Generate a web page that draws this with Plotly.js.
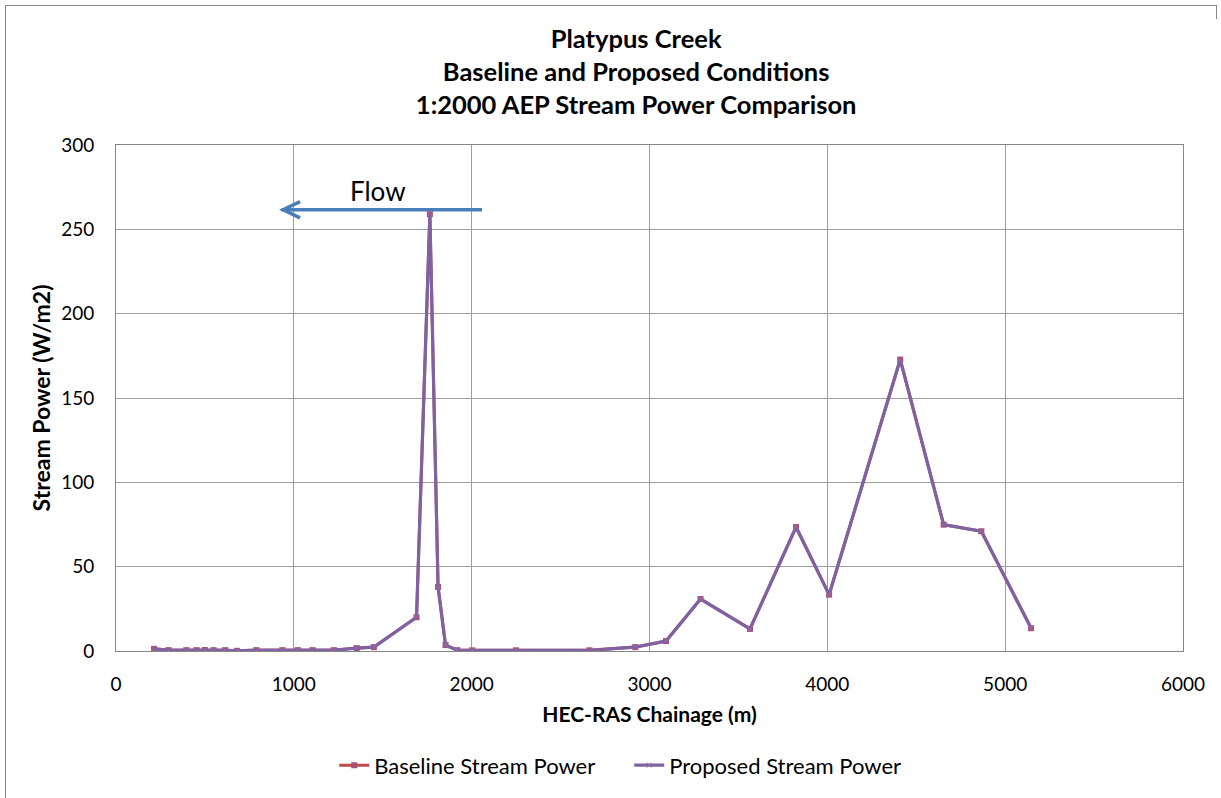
<!DOCTYPE html>
<html>
<head>
<meta charset="utf-8">
<script src="https://cdn.plot.ly/plotly-3.0.1.min.js"></script>
<style>
  html, body { margin: 0; padding: 0; background: #fff; }
  #chart { position: absolute; left: 0; top: 0; width: 1221px; height: 798px; }
  #frame { position: absolute; left: 5px; top: 5px; width: 1211px; height: 800px;
           border-left: 1px solid #8a8a8a; border-top: 1px solid #8a8a8a; pointer-events: none; }
  #frame2 { position: absolute; left: 1216px; top: 5px; width: 0; height: 14px;
           border-left: 1px solid #8a8a8a; pointer-events: none; }
</style>
</head>
<body>
<div id="chart"></div>
<div id="frame"></div>
<div id="frame2"></div>
<script>
// Chainage (m)
const chainage = [214, 295, 396, 453, 500, 548, 614, 680, 789, 936, 1022, 1105, 1225, 1353, 1450,
                  1690, 1765, 1811, 1853, 1919, 2003, 2249, 2662, 2920, 3093, 3287, 3565, 3824,
                  4010, 4410, 4654, 4866, 5146];
// Stream power (W/m2)
const baselinePower = [1.3, 0.5, 0.5, 0.5, 0.6, 0.5, 0.5, 0.1, 0.5, 0.5, 0.5, 0.5, 0.5, 1.7, 2.3,
                       20, 259, 38, 3.5, 0.5, 0.4, 0.4, 0.4, 2.3, 5.9, 30.8, 13.1, 73.5,
                       33.4, 172.8, 74.9, 71, 13.5];
const proposedPower = [1.3, 0.5, 0.5, 0.5, 0.6, 0.5, 0.5, 0.1, 0.5, 0.5, 0.5, 0.5, 0.5, 1.7, 2.3,
                       20, 259, 38, 3.5, 0.5, 0.4, 0.4, 0.4, 2.3, 5.9, 30.8, 13.1, 73.5,
                       33.4, 172.8, 74.9, 71, 13.5];
const seriesNames = ["Baseline Stream Power", "Proposed Stream Power"];
const xTicks = [0, 1000, 2000, 3000, 4000, 5000, 6000];
const yTicks = [0, 50, 100, 150, 200, 250, 300];

// Flow arrow annotation (tail -> head, in chainage / power units)
const flowLabel = "Flow";
const flowArrow = { x0: 2058, x1: 940, y: 261.6 };

const FONT = "Lato, 'Open Sans', sans-serif";

const traces = [
  {
    x: chainage, y: baselinePower, name: seriesNames[0], type: "scatter", mode: "lines+markers",
    line: { color: "#BE4B48", width: 3 },
    marker: { symbol: "square", size: 6, color: "#A8507A" }
  },
  {
    x: chainage, y: proposedPower, name: seriesNames[1], type: "scatter", mode: "lines+markers",
    line: { color: "#7F62A1", width: 3.2 },
    marker: { symbol: "x-thin", size: 5, color: "#9b6a9a", line: { width: 1, color: "#9b6a9a" } }
  }
];

const chev = 95, chevY = 4.8;
const layout = {
  width: 1221, height: 798,
  margin: { l: 116, r: 38, t: 145, b: 144 },
  paper_bgcolor: "rgba(0,0,0,0)",
  plot_bgcolor: "#fff",
  font: { family: FONT, color: "#000", size: 19 },
  title: {
    text: "<b>Platypus Creek</b><br><b>Baseline and Proposed Conditions</b><br><b>1:2000 AEP Stream Power Comparison</b>",
    font: { family: FONT, size: 25.5, color: "#000" },
    x: 0.521, xanchor: "center", y: 0.94, yanchor: "top"
  },
  xaxis: {
    range: [0, 6000], tickvals: xTicks, ticktext: xTicks.map(String),
    showgrid: true, gridcolor: "#9e9e9e", gridwidth: 1,
    showline: true, linecolor: "#868686", linewidth: 1, mirror: true,
    zeroline: false, ticks: "", ticklabelstandoff: 16, automargin: false,
    tickfont: { family: FONT, size: 19 },
    title: { text: "<b>HEC-RAS Chainage (m)</b>", font: { family: FONT, size: 21 }, standoff: 13 }
  },
  yaxis: {
    range: [0, 300], tickvals: yTicks, ticktext: yTicks.map(String),
    showgrid: true, gridcolor: "#9e9e9e", gridwidth: 1,
    showline: true, linecolor: "#868686", linewidth: 1, mirror: true,
    zeroline: false, ticks: "", ticklabelstandoff: 17, automargin: false,
    tickfont: { family: FONT, size: 19 },
    title: { text: "<b>Stream Power (W/m2)</b>", font: { family: FONT, size: 23 }, standoff: 4 }
  },
  showlegend: true,
  legend: {
    orientation: "h", x: 0.481, xanchor: "center", y: -0.226, yanchor: "middle",
    font: { family: FONT, size: 22 }, itemwidth: 30, traceorder: "normal",
    entrywidth: 250, entrywidthmode: "pixels",
    bgcolor: "rgba(0,0,0,0)"
  },
  shapes: [
    { type: "line", xref: "x", yref: "y", x0: flowArrow.x0, x1: flowArrow.x1 - 10, y0: flowArrow.y, y1: flowArrow.y,
      line: { color: "#4A7EBB", width: 3.5 } },
    { type: "path", xref: "x", yref: "y",
      path: `M ${flowArrow.x1 + chev} ${flowArrow.y + chevY} L ${flowArrow.x1} ${flowArrow.y} L ${flowArrow.x1 + chev} ${flowArrow.y - chevY}`,
      line: { color: "#4A7EBB", width: 3.5 } }
  ],
  annotations: [
    { x: 1472, y: 273, xref: "x", yref: "y", text: flowLabel, showarrow: false,
      font: { family: FONT, size: 26, color: "#000" } }
  ]
};

Plotly.newPlot("chart", traces, layout, { staticPlot: true, displayModeBar: false });
</script>
</body>
</html>
